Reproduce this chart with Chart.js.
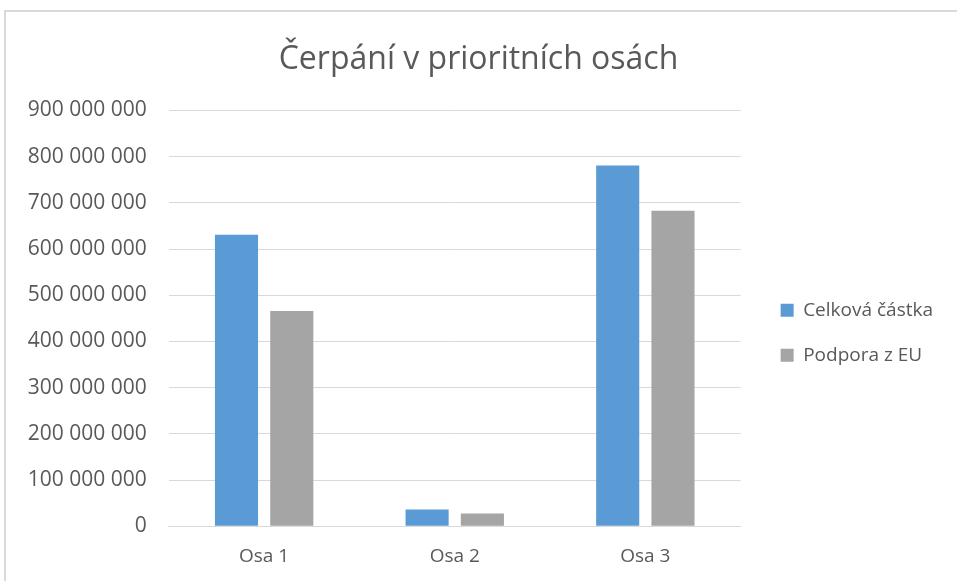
<!DOCTYPE html>
<html>
<head>
<meta charset="utf-8">
<script src="https://cdn.jsdelivr.net/npm/chart.js@4"></script>
<style>
  html, body { margin: 0; padding: 0; background: #fff; }
  #frame { position: absolute; left: 4px; top: 10px; width: 1200px; height: 800px; border: 2px solid #d9d9d9; }
  #wrap { position: absolute; left: 0; top: 0; width: 957px; height: 581px; }
</style>
</head>
<body>
<div id="frame"></div>
<div id="wrap"><canvas id="chart"></canvas></div>
<script>
var categories = ["Osa 1", "Osa 2", "Osa 3"];
var celkovaCastka = [631000000, 36000000, 781000000];
var podporaEU = [466000000, 27500000, 683000000];
var yTicks = [0, 100000000, 200000000, 300000000, 400000000, 500000000, 600000000, 700000000, 800000000, 900000000];

function spaced(v) {
    return String(v).replace(/\B(?=(\d{3})+(?!\d))/g, ' ');
}

var font = "'Open Sans', sans-serif";

var ctx = document.getElementById('chart').getContext('2d');
new Chart(ctx, {
    type: 'bar',
    data: {
        labels: categories,
        datasets: [
            {
                label: 'Celková částka',
                data: celkovaCastka,
                backgroundColor: '#5b9bd5',
                barPercentage: 0.78,
                categoryPercentage: 0.58
            },
            {
                label: 'Podpora z EU',
                data: podporaEU,
                backgroundColor: '#a5a5a5',
                barPercentage: 0.78,
                categoryPercentage: 0.58
            }
        ]
    },
    options: {
        responsive: true,
        maintainAspectRatio: false,
        animation: false,
        layout: { padding: { left: 14, right: 14, top: 41, bottom: 2 } },
        plugins: {
            title: {
                display: true,
                text: 'Čerpání v prioritních osách',
                color: '#595959',
                font: { family: font, size: 32, weight: 'normal' },
                padding: { top: 0, bottom: 31 }
            },
            legend: {
                position: 'right',
                maxWidth: 300,
                title: { display: true, text: ' ', font: { size: 2 }, padding: { top: 0, bottom: 43 } },
                labels: {
                    color: '#595959',
                    font: { family: font, size: 19 },
                    boxWidth: 13,
                    boxHeight: 13,
                    padding: 26
                }
            },
            tooltip: { enabled: false }
        },
        scales: {
            x: {
                grid: { display: false },
                border: { display: true, color: '#d9d9d9' },
                ticks: { color: '#595959', font: { family: font, size: 19 }, padding: 11 }
            },
            y: {
                min: 0,
                max: 900000000,
                afterBuildTicks: function (axis) {
                    axis.ticks = yTicks.map(function (v) { return { value: v }; });
                },
                grid: { color: '#d9d9d9', drawTicks: false },
                border: { display: false },
                ticks: {
                    color: '#595959',
                    font: { family: font, size: 21 },
                    padding: 22,
                    callback: function (v) { return spaced(v); }
                }
            },
            // empty spacer between plot and legend
            gap: {
                type: 'linear',
                position: 'right',
                grid: { display: false, drawTicks: false },
                border: { display: false },
                ticks: { display: false },
                afterFit: function (s) { s.width = 14; }
            }
        }
    }
});
</script>
</body>
</html>
